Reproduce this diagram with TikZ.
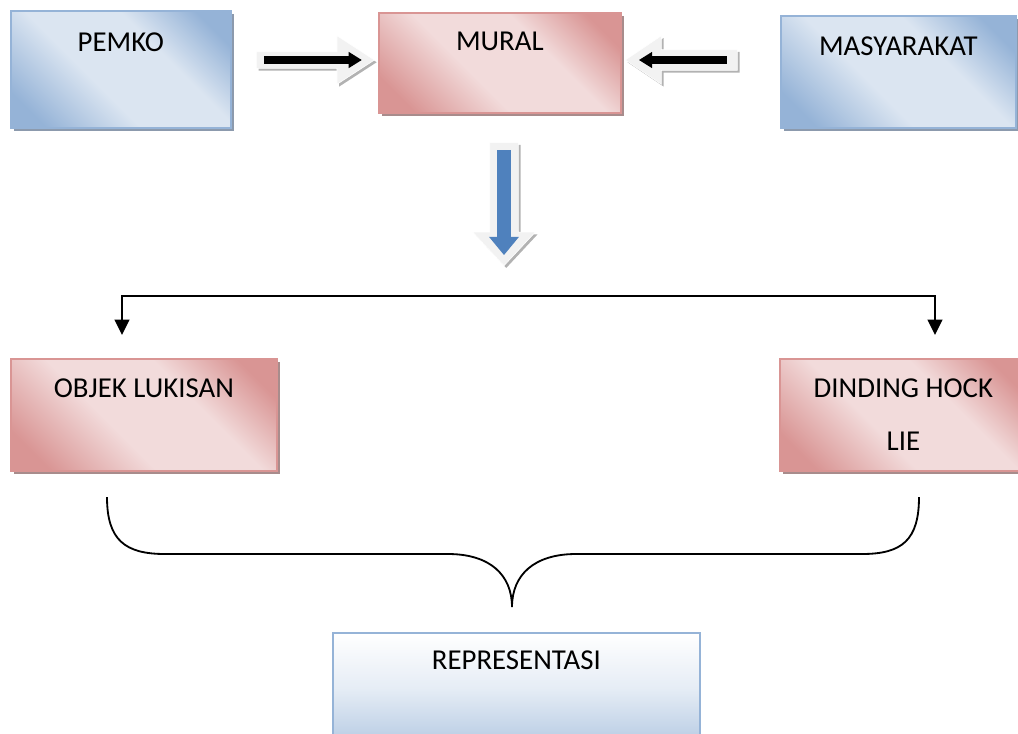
\documentclass[tikz,border=0pt]{standalone}
\usepackage{fontspec}
\setmainfont{Carlito}
\usetikzlibrary{shapes.arrows,shadows,arrows.meta,calc}
\definecolor{blueD}{HTML}{95B3D7}
\definecolor{blueL}{HTML}{DBE5F1}
\definecolor{blueB}{HTML}{B8CCE4}
\definecolor{blueS}{HTML}{8C9AAD}
\definecolor{redD}{HTML}{D99594}
\definecolor{redL}{HTML}{F2DBDB}
\definecolor{redS}{HTML}{A88C8C}
\definecolor{arrowblue}{HTML}{4F81BD}
\pgfdeclarehorizontalshading{blueglow}{100bp}{color(0bp)=(blueD); color(22bp)=(blueD); color(42bp)=(blueL); color(62bp)=(blueL); color(78bp)=(blueD); color(100bp)=(blueD)}
\pgfdeclarehorizontalshading{redglow}{100bp}{color(0bp)=(redD); color(22bp)=(redD); color(42bp)=(redL); color(62bp)=(redL); color(78bp)=(redD); color(100bp)=(redD)}
\newcommand\boxfont{\fontsize{20.5}{37.7}\selectfont}
\tikzset{
  bluebox/.style={draw=blueD,line width=1.2pt,shading=blueglow,shading angle=45,inner sep=0pt,anchor=north west,font=\boxfont,
    drop shadow={shadow xshift=2.2pt,shadow yshift=-2.2pt,fill=blueS,opacity=1}},
  redbox/.style={draw=redD,line width=1.2pt,shading=redglow,shading angle=45,inner sep=0pt,anchor=north west,font=\boxfont,
    drop shadow={shadow xshift=2.2pt,shadow yshift=-2.2pt,fill=redS,opacity=1}},
  repbox/.style={draw=blueD,line width=1.2pt,top color=white,bottom color=blueB,middle color=blueL!70!white,inner sep=0pt,anchor=north west,font=\boxfont},
  blockarrow/.style={single arrow,fill=black!5,draw=white,line width=0.4pt,inner sep=0pt,
    drop shadow={shadow xshift=1.6pt,shadow yshift=-1.6pt,fill=black!30,opacity=1}},
  blackarrow/.style={line width=5pt,-{Triangle[width=11pt,length=9.5pt]}},
  bluearrow/.style={draw=arrowblue,line width=10.5pt,-{Triangle[width=20.5pt,length=13pt]}},
  forkline/.style={line width=1.4pt,{Triangle[width=10.5pt,length=11pt]}-{Triangle[width=10.5pt,length=11pt]}},
  braceline/.style={line width=1.3pt}
}
\begin{document}
\begin{tikzpicture}[x=0.025cm,y=0.025cm]
\useasboundingbox (0,0) rectangle (1018,-733);
% top row
\node[bluebox,minimum width=5.5cm,text height=1.025cm,text depth=1.9cm] (pemko) at (10,-10) {PEMKO};
\node[redbox,minimum width=6.05cm,text height=0.95cm,text depth=1.55cm] (mural) at (378,-12) {MURAL};
\node[bluebox,minimum width=5.875cm,text height=1.0cm,text depth=1.8cm] (masy) at (780,-15) {MASYARAKAT};
% block arrows
\node[blockarrow,minimum height=2.95cm,minimum width=1.2cm,text height=0.2cm,text depth=0.2cm,
  single arrow head extend=0.4cm,single arrow tip angle=66] (pemkoArrow) at (309,-60) {};
\node[blockarrow,minimum height=2.8cm,minimum width=1.2cm,text height=0.25cm,text depth=0.25cm,
  single arrow head extend=0.35cm,single arrow tip angle=68,shape border rotate=180] (masyArrow) at (689,-60) {};
\node[blockarrow,rotate=-90,minimum height=3.075cm,minimum width=1.55cm,text height=0.35cm,text depth=0.35cm,
  single arrow head extend=0.425cm,single arrow tip angle=86] (muralArrow) at (504,-196.5) {};
\draw[blackarrow] ($(pemkoArrow.tail)+(8,0)$) -- ($(pemkoArrow.tip)+(-13,0)$);
\draw[blackarrow] ($(masyArrow.tail)+(-11,0)$) -- ($(masyArrow.tip)+(14,0)$);
\draw[bluearrow] ($(muralArrow.tail)+(0,-8)$) -- ($(muralArrow.tip)+(0,11)$);
% fork
\coordinate (forkL) at (122,-335);
\coordinate (forkR) at (935,-335);
\draw[forkline] (forkL) -- ++(0,39) -| (forkR);
% middle row
\node[redbox,minimum width=6.65cm,text height=0.975cm,text depth=1.825cm] (objek) at (10,-358) {OBJEK LUKISAN};
\node[redbox,text width=6.175cm,align=flush center,text height=0.975cm,text depth=1.825cm] (dinding) at (779,-358) {DINDING HOCK\\LIE};
% brace
\coordinate (braceL) at (107,-497);
\coordinate (braceM) at (512,-607);
\coordinate (braceR) at (919,-497);
\draw[braceline] (braceL) .. controls (107,-540) and (125,-554) .. (165,-554) -- (448,-554)
  .. controls (490,-554) and (512,-575) .. (braceM)
  .. controls (512,-575) and (534,-554) .. (576,-554) -- (862,-554)
  .. controls (902,-554) and (919,-540) .. (braceR);
% bottom
\node[repbox,minimum width=9.175cm,text height=0.925cm,text depth=1.825cm] (repres) at (332,-632) {REPRESENTASI};
\end{tikzpicture}
\end{document}
